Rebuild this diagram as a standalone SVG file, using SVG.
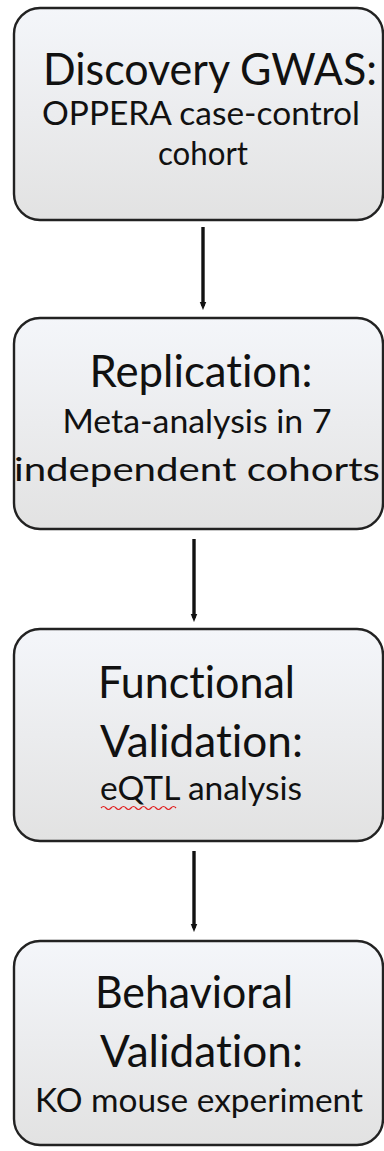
<svg xmlns="http://www.w3.org/2000/svg" width="384" height="1151" viewBox="0 0 384 1151">
  <defs>
    <linearGradient id="boxFill" x1="0" y1="0" x2="0" y2="1">
      <stop offset="0" stop-color="#f4f6fa"/>
      <stop offset="1" stop-color="#e2e2e2"/>
    </linearGradient>
    <marker id="arrowHead" viewBox="0 0 10 8" refX="5" refY="4" markerWidth="2.4" markerHeight="3" orient="auto" markerUnits="strokeWidth">
      <path d="M0,0 L10,4 L0,8 Z" fill="#111"/>
    </marker>
  </defs>
  <style>
    .box { fill: url(#boxFill); stroke: #222; stroke-width: 2.4; }
    text { font-family: Lato, "Open Sans", sans-serif; fill: #111; text-anchor: middle; font-variant-ligatures: none; }
    .title { font-size: 44px; }
    .sub { font-size: 32px; }
    .conn { stroke: #111; stroke-width: 3.4; fill: none; marker-end: url(#arrowHead); }
  </style>
  <rect width="384" height="1151" fill="#ffffff"/>

  <g id="connectors">
    <line class="conn" x1="203" y1="227" x2="203" y2="306"/>
    <line class="conn" x1="194" y1="539" x2="194" y2="618"/>
    <line class="conn" x1="194" y1="851" x2="194" y2="928"/>
  </g>

  <g id="discovery">
    <rect class="box" x="14" y="8" width="369" height="212" rx="26"/>
    <text class="title" x="210" y="85" textLength="334" lengthAdjust="spacingAndGlyphs">Discovery GWAS:</text>
    <text class="sub" x="201" y="125" textLength="318" lengthAdjust="spacingAndGlyphs">OPPERA case-control</text>
    <text class="sub" x="203" y="165" textLength="90" lengthAdjust="spacingAndGlyphs">cohort</text>
  </g>

  <g id="replication">
    <rect class="box" x="14" y="318" width="369" height="211" rx="26"/>
    <text class="title" x="201" y="387" textLength="223" lengthAdjust="spacingAndGlyphs">Replication:</text>
    <text class="sub" x="197" y="433" textLength="269" lengthAdjust="spacingAndGlyphs">Meta-analysis in 7</text>
    <text class="sub" x="197" y="481" textLength="366" lengthAdjust="spacingAndGlyphs">independent cohorts</text>
  </g>

  <g id="functional">
    <rect class="box" x="14" y="629" width="369" height="212" rx="26"/>
    <text class="title" x="196.5" y="698" textLength="197" lengthAdjust="spacingAndGlyphs">Functional</text>
    <text class="title" x="201.5" y="757" textLength="203" lengthAdjust="spacingAndGlyphs">Validation:</text>
    <text class="sub" x="201" y="800" textLength="202" lengthAdjust="spacingAndGlyphs">eQTL analysis</text>
    <path d="M101,808 q2.5,-3 5,0 t5,0 t5,0 t5,0 t5,0 t5,0 t5,0 t5,0 t5,0 t5,0 t5,0 t5,0 t5,0 t5,0 t5,0" fill="none" stroke="#e02020" stroke-width="1.2"/>
  </g>

  <g id="behavioral">
    <rect class="box" x="14" y="941" width="369" height="204" rx="26"/>
    <text class="title" x="194" y="1008" textLength="198" lengthAdjust="spacingAndGlyphs">Behavioral</text>
    <text class="title" x="201.5" y="1067" textLength="203" lengthAdjust="spacingAndGlyphs">Validation:</text>
    <text class="sub" x="199" y="1112" textLength="328" lengthAdjust="spacingAndGlyphs">KO mouse experiment</text>
  </g>
</svg>
